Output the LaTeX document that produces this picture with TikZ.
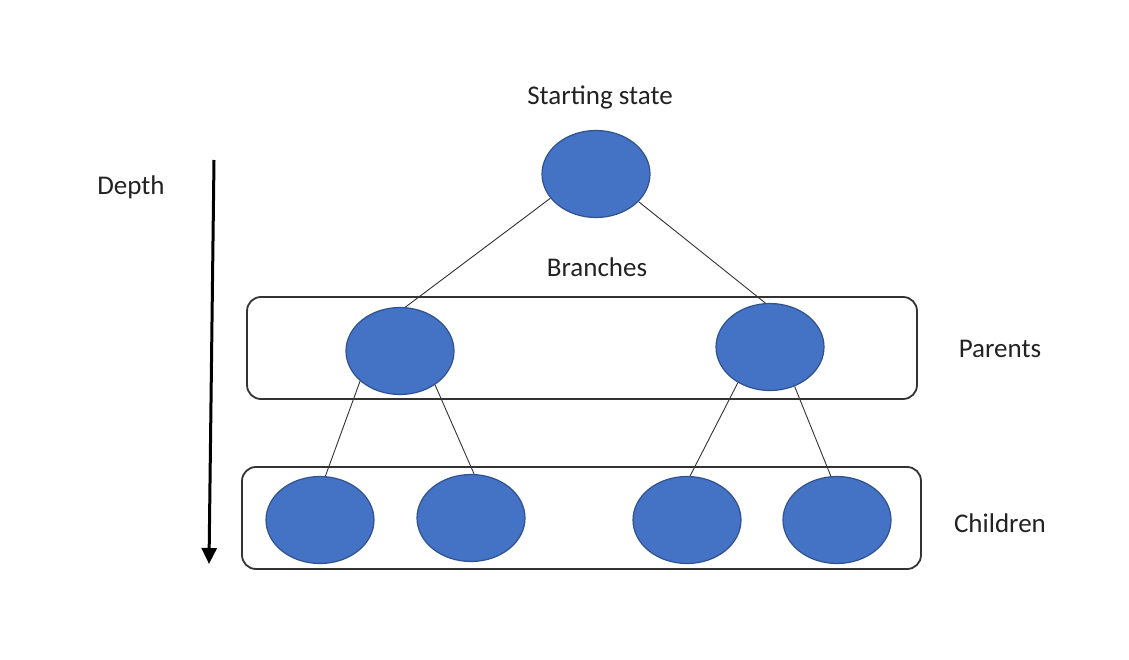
\documentclass[tikz,border=0pt]{standalone}
\usepackage{fontspec}
\setmainfont{Carlito}
\usetikzlibrary{shapes.geometric,arrows.meta}
\definecolor{nodefill}{HTML}{4472C4}
\definecolor{nodeedge}{HTML}{2F528F}
\definecolor{txt}{HTML}{222222}
\begin{document}
\begin{tikzpicture}[x=1pt,y=-1pt,
  blob/.style={ellipse,draw=nodeedge,line width=1.2pt,fill=nodefill,minimum width=108pt,minimum height=87pt,inner sep=0pt},
  group/.style={draw=black!80,line width=1.8pt,rounded corners=14pt,inner sep=0pt},
  lbl/.style={font=\fontsize{27}{32}\selectfont,text=txt},
  link/.style={draw=black!80,line width=0.9pt}]
\useasboundingbox (0,0) rectangle (1129,660);
\node[group,minimum width=670pt,minimum height=102pt] (pbox) at (582,348) {};
\node[group,minimum width=679pt,minimum height=102pt] (cbox) at (581.5,518) {};
\node[blob] (top) at (596,174) {};
\node[blob] (pl) at (400,351) {};
\node[blob] (pr) at (770,347) {};
\node[blob] (c1) at (320,520) {};
\node[blob] (c2) at (471,518) {};
\node[blob] (c3) at (687,520) {};
\node[blob] (c4) at (837,520) {};
\draw[link] (top.208) -- (pl.83);
\draw[link] (top.327) -- (pr.96);
\draw[link] (pl.217) -- (c1.83);
\draw[link] (pl.316) -- (c2.86);
\draw[link] (pr.228) -- (c3.86);
\draw[link] (pr.302) -- (c4.98);
\node[lbl] (start) at (600,97) {Starting state};
\node[lbl] (branches) at (597,267) {Branches};
\node[lbl] (depth) at (131,187) {Depth};
\node[lbl] (parents) at (1000,349) {Parents};
\node[lbl] (children) at (1000,523) {Children};
\coordinate (dtop) at (214,160);
\coordinate (dbot) at (209,564);
\draw[line width=3pt,-{Triangle[length=16pt,width=15pt]}] (dtop) -- (dbot);
\end{tikzpicture}
\end{document}
